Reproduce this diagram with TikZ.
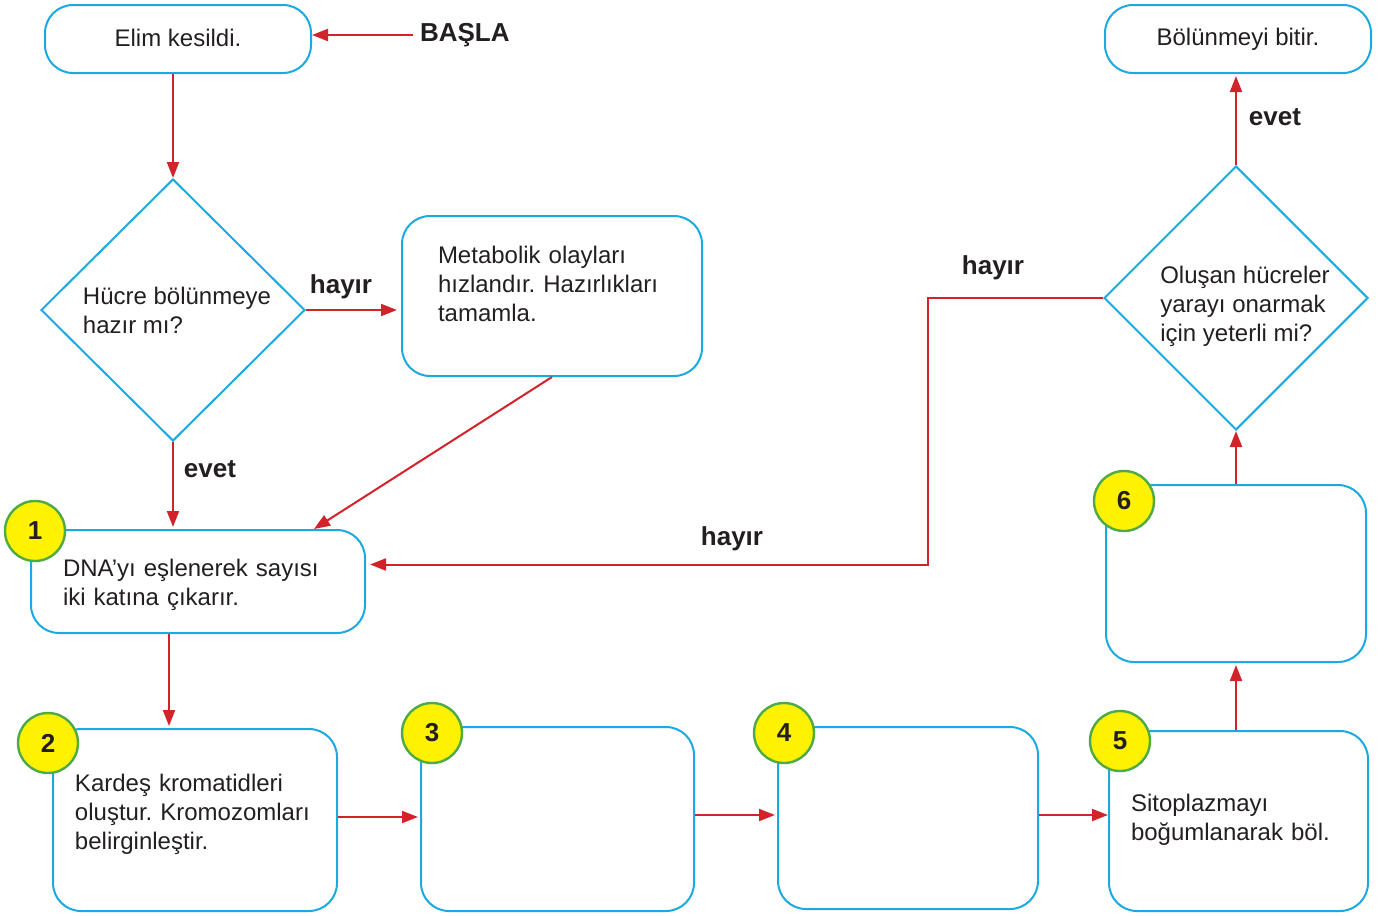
\documentclass[tikz,border=0pt]{standalone}
\usepackage{fontspec}
\setmainfont{Liberation Sans}
\usetikzlibrary{shapes.geometric, positioning, arrows.meta, calc}
\definecolor{boxblue}{HTML}{1BA9E1}
\definecolor{arrred}{HTML}{D2232A}
\definecolor{numyellow}{HTML}{FFF200}
\definecolor{numgreen}{HTML}{4DAA47}
\definecolor{txtgray}{HTML}{231F20}
\frenchspacing
\tikzset{
  stepbox/.style={rectangle, rounded corners=14pt, draw=boxblue, line width=1pt, align=center, text=txtgray, font=\fontsize{12}{14.5}\selectfont},
  decision/.style={diamond, aspect=1, draw=boxblue, line width=1pt, inner sep=0pt},
  boxtext/.style={inner sep=0pt, align=left, text=txtgray, font=\fontsize{12}{14.5}\selectfont},
  numdot/.style={circle, draw=numgreen, fill=numyellow, line width=1.2pt, minimum size=30pt, inner sep=0pt, text=txtgray, font=\fontsize{13}{13}\selectfont\bfseries},
  lbl/.style={text=txtgray, font=\fontsize{13}{13}\selectfont\bfseries},
  arrow/.style={draw=arrred, line width=1pt, -{Triangle[length=8pt,width=6pt]}}
}
\begin{document}
\begin{tikzpicture}[x=0.5pt, y=-0.5pt]
  \useasboundingbox (0,0) rectangle (1394,916);

  % --- Sol sutun: baslangic ve DNA eslenmesi ---
  \node (elim) [stepbox, minimum width=133pt, minimum height=34pt] at (178,39) {\raisebox{1.5pt}{Elim kesildi.}};
  \node (basla) [lbl, anchor=west] at (413,35) {BAŞLA};
  \node (d1) [decision, minimum width=132pt, minimum height=131pt] at (173,310) {};
  \node (d1txt) [boxtext] at (177,310) {Hücre bölünmeye\\hazır mı?};
  \node (meta) [stepbox, minimum width=150pt, minimum height=80pt] at (552,296) {};
  \node (metatxt) [boxtext, text width=114pt] at (552,284) {Metabolik olayları\\hızlandır. Hazırlıkları\\tamamla.};
  \node (dna) [stepbox, minimum width=167pt, minimum height=51.5pt] at (198,581.5) {};
  \node (dnatxt) [boxtext, text width=135pt] at (198,584.5) {DNA’yı eşlenerek sayısı\\iki katına çıkarır.};

  % --- Alt sira: bolunme evreleri ---
  \node (kardes) [stepbox, minimum width=142pt, minimum height=91pt] at (195,820) {};
  \node (kardestxt) [boxtext, text width=120pt] at (195,814) {Kardeş kromatidleri\\oluştur. Kromozomları\\belirginleştir.};
  \node (bos3) [stepbox, minimum width=136.5pt, minimum height=92pt] at (557.5,819) {};
  \node (bos4) [stepbox, minimum width=130pt, minimum height=91pt] at (908,818) {};
  \node (sito) [stepbox, minimum width=129.5pt, minimum height=90pt] at (1238.5,821) {};
  \node (sitotxt) [boxtext, text width=107.5pt] at (1238.5,820) {Sitoplazmayı\\boğumlanarak böl.};

  % --- Sag sutun: kontrol ve bitis ---
  \node (bos6) [stepbox, minimum width=130pt, minimum height=88.5pt] at (1236,573.5) {};
  \node (d2) [decision, minimum width=132pt, minimum height=132pt] at (1236,298) {};
  \node (d2txt) [boxtext] at (1245,306) {Oluşan hücreler\\yarayı onarmak\\için yeterli mi?};
  \node (bitir) [stepbox, minimum width=133pt, minimum height=34pt] at (1238,39) {Bölünmeyi bitir.};

  % --- Numaralar ---
  \node (n1) [numdot] at (35,531) {1};
  \node (n2) [numdot] at (48,743) {2};
  \node (n3) [numdot] at (432,733) {3};
  \node (n4) [numdot] at (784,733) {4};
  \node (n5) [numdot] at (1120,741) {5};
  \node (n6) [numdot] at (1124,501) {6};

  % --- Etiketler ---
  \node (hayir1) [lbl] at (341,287) {hayır};
  \node (evet1) [lbl] at (210,469) {evet};
  \node (hayir2) [lbl] at (993,268) {hayır};
  \node (hayir3) [lbl] at (732,539) {hayır};
  \node (evet2) [lbl] at (1275,117) {evet};

  % --- Oklar ---
  \draw [arrow] (basla.west) -- (basla.west -| elim.east);
  \draw [arrow] (elim.south -| d1.north) -- (d1.north);
  \draw [arrow, shorten >=2pt] (d1.east) -- (d1.east -| meta.west);
  \draw [arrow, shorten >=1pt] (d1.south) -- (d1.south |- dna.north);
  \draw [arrow] (meta.south) -- ($(dna.north east)+(-52,0)$);
  \draw [arrow, shorten >=1pt] ($(dna.south)+(-29,0)$) -- ($(kardes.north)+(-26,0)$);
  \draw [arrow, shorten >=1pt] ($(kardes.east)+(0,-3)$) coordinate (k2) -- (k2 -| bos3.west);
  \draw [arrow, shorten >=1pt] ($(bos3.east)+(0,-4)$) coordinate (k3) -- (k3 -| bos4.west);
  \draw [arrow] ($(bos4.east)+(0,-3)$) coordinate (k4) -- (k4 -| sito.west);
  \draw [arrow, shorten >=1pt] (sito.north -| bos6.south) -- (bos6.south);
  \draw [arrow] (bos6.north) -- (d2.south);
  \draw [arrow, shorten >=1pt] (d2.north) -- (d2.north |- bitir.south);
  \coordinate (donus) at (928,298);
  \draw [arrow, shorten >=2pt] (d2.west) -- (donus) |- ($(dna.east)+(0,-17)$);
\end{tikzpicture}
\end{document}
